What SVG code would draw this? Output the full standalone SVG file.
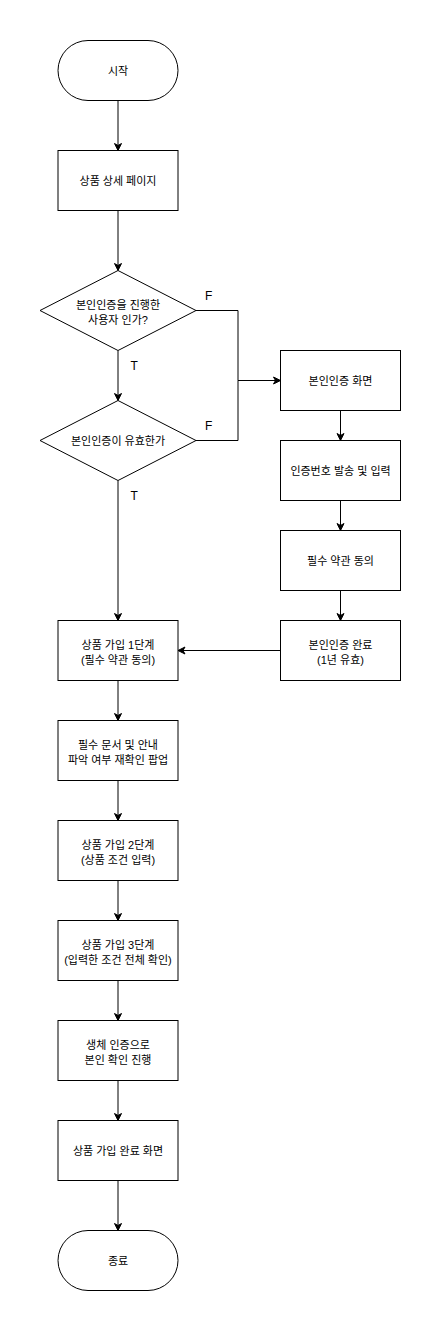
<svg xmlns="http://www.w3.org/2000/svg" width="441" height="1331" viewBox="0 0 441 1331">
<style>
.shape{fill:#ffffff;stroke:#000000;stroke-width:1}
.edge{fill:none;stroke:#000000;stroke-width:1}
.t{font-family:"Liberation Sans","Noto Sans CJK KR",sans-serif;font-size:11px;fill:#000000;text-anchor:middle}
.lbl{font-family:"Liberation Sans","Noto Sans CJK KR",sans-serif;font-size:12px;fill:#000000}
</style>
<defs>
<marker id="arr" viewBox="-8 -5 10 10" refX="0" refY="0" markerWidth="10" markerHeight="10" markerUnits="userSpaceOnUse" orient="auto">
<path d="M0,0 L-7,-3.5 L-5,0 L-7,3.5 Z" fill="#000000" stroke="#000000" stroke-width="1"/>
</marker>
</defs>
<rect width="441" height="1331" fill="#ffffff"/>
<g id="connectors">
<path class="edge" d="M118,100.5 V150.5" marker-end="url(#arr)"/>
<path class="edge" d="M118,210.5 V270.5" marker-end="url(#arr)"/>
<path class="edge" d="M118,350.5 V400.5" marker-end="url(#arr)"/>
<path class="edge" d="M118,480.5 V620.5" marker-end="url(#arr)"/>
<path class="edge" d="M196,310.5 H238 V380.5 H280.5" marker-end="url(#arr)"/>
<path class="edge" d="M196,440.5 H238 V380.5"/>
<path class="edge" d="M340.5,410.5 V440.5" marker-end="url(#arr)"/>
<path class="edge" d="M340.5,500.5 V530.5" marker-end="url(#arr)"/>
<path class="edge" d="M340.5,590.5 V620.5" marker-end="url(#arr)"/>
<path class="edge" d="M280.5,650.5 H178" marker-end="url(#arr)"/>
<path class="edge" d="M118,680.5 V720.5" marker-end="url(#arr)"/>
<path class="edge" d="M118,780.5 V820.5" marker-end="url(#arr)"/>
<path class="edge" d="M118,880.5 V920.5" marker-end="url(#arr)"/>
<path class="edge" d="M118,980.5 V1020.5" marker-end="url(#arr)"/>
<path class="edge" d="M118,1080.5 V1120.5" marker-end="url(#arr)"/>
<path class="edge" d="M118,1180.5 V1230.5" marker-end="url(#arr)"/>
<text class="lbl" x="205" y="299.5">F</text>
<text class="lbl" x="130.5" y="370">T</text>
<text class="lbl" x="205" y="429.5">F</text>
<text class="lbl" x="130.5" y="499.5">T</text>
</g>
<g id="start">
<rect class="shape" x="58" y="40.5" width="120" height="60" rx="30" ry="30"/>
<text class="t" x="118" y="74.5">시작</text>
</g>
<g id="product-detail">
<rect class="shape" x="58" y="150.5" width="120" height="60"/>
<text class="t" x="118" y="184.5">상품 상세 페이지</text>
</g>
<g id="decision-verified">
<polygon class="shape" points="118,270.5 196,310.5 118,350.5 40,310.5"/>
<text class="t" x="118" y="309">본인인증을 진행한</text>
<text class="t" x="118" y="324">사용자 인가?</text>
</g>
<g id="decision-valid">
<polygon class="shape" points="118,400.5 196,440.5 118,480.5 40,440.5"/>
<text class="t" x="118" y="444.5">본인인증이 유효한가</text>
</g>
<g id="auth-screen">
<rect class="shape" x="280.5" y="350.5" width="120" height="60"/>
<text class="t" x="340.5" y="384.5">본인인증 화면</text>
</g>
<g id="auth-code">
<rect class="shape" x="280.5" y="440.5" width="120" height="60"/>
<text class="t" x="340.5" y="474.5">인증번호 발송 및 입력</text>
</g>
<g id="terms-agree">
<rect class="shape" x="280.5" y="530.5" width="120" height="60"/>
<text class="t" x="340.5" y="564.5">필수 약관 동의</text>
</g>
<g id="auth-done">
<rect class="shape" x="280.5" y="620.5" width="120" height="60"/>
<text class="t" x="340.5" y="649">본인인증 완료</text>
<text class="t" x="340.5" y="664">(1년 유효)</text>
</g>
<g id="join-step1">
<rect class="shape" x="58" y="620.5" width="120" height="60"/>
<text class="t" x="118" y="649">상품 가입 1단계</text>
<text class="t" x="118" y="664">(필수 약관 동의)</text>
</g>
<g id="doc-confirm">
<rect class="shape" x="58" y="720.5" width="120" height="60"/>
<text class="t" x="118" y="749">필수 문서 및 안내</text>
<text class="t" x="118" y="764">파악 여부 재확인 팝업</text>
</g>
<g id="join-step2">
<rect class="shape" x="58" y="820.5" width="120" height="60"/>
<text class="t" x="118" y="849">상품 가입 2단계</text>
<text class="t" x="118" y="864">(상품 조건 입력)</text>
</g>
<g id="join-step3">
<rect class="shape" x="58" y="920.5" width="120" height="60"/>
<text class="t" x="118" y="949">상품 가입 3단계</text>
<text class="t" x="118" y="964">(입력한 조건 전체 확인)</text>
</g>
<g id="biometric">
<rect class="shape" x="58" y="1020.5" width="120" height="60"/>
<text class="t" x="118" y="1049">생체 인증으로</text>
<text class="t" x="118" y="1064">본인 확인 진행</text>
</g>
<g id="join-complete">
<rect class="shape" x="58" y="1120.5" width="120" height="60"/>
<text class="t" x="118" y="1154.5">상품 가입 완료 화면</text>
</g>
<g id="end">
<rect class="shape" x="58" y="1230.5" width="120" height="60" rx="30" ry="30"/>
<text class="t" x="118" y="1264.5">종료</text>
</g>
</svg>
